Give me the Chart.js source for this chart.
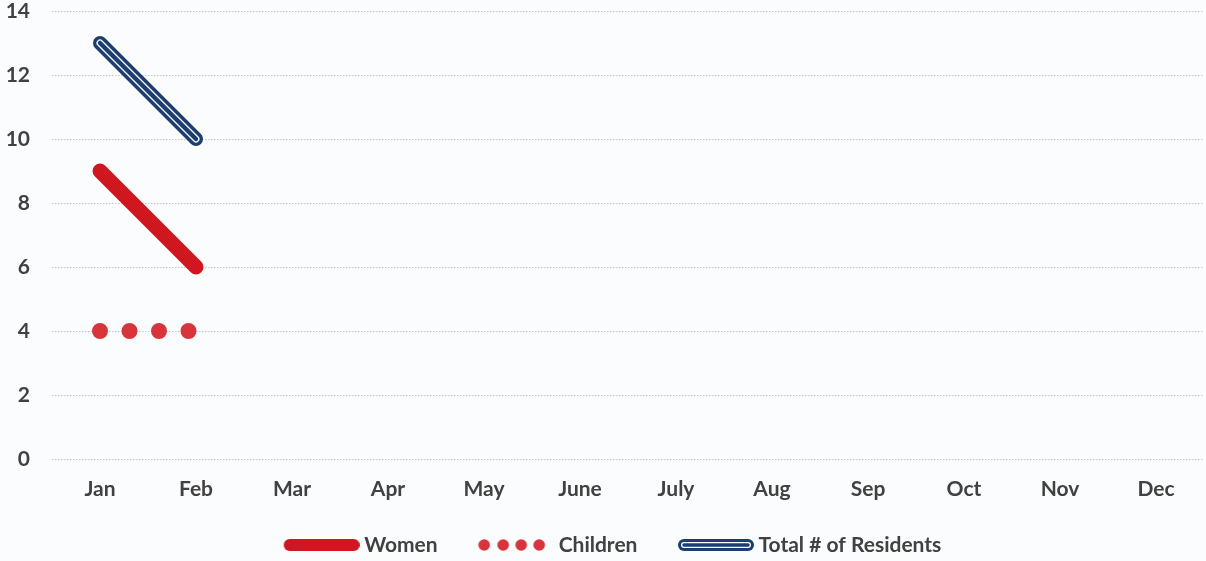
<!DOCTYPE html>
<html><head><meta charset="utf-8">
<script src="https://cdn.jsdelivr.net/npm/chart.js@4/dist/chart.umd.min.js"></script>
<style>html,body{margin:0;padding:0;background:#fafcfd;overflow:hidden}</style>
</head><body>
<canvas id="c" width="1206" height="561" style="width:1206px;height:561px;display:block"></canvas>
<script>
const months = ['Jan','Feb','Mar','Apr','May','June','July','Aug','Sep','Oct','Nov','Dec'];
const women = [9, 6, null, null, null, null, null, null, null, null, null, null];
const children = [4, 4, null, null, null, null, null, null, null, null, null, null];
const totalResidents = [13, 10, null, null, null, null, null, null, null, null, null, null];
const seriesNames = ['Women', 'Children', 'Total # of Residents'];
const yMin = 0, yMax = 14, yStep = 2;

const RED = '#d0161f', RED2 = '#d8343c', BLUE = '#1b3d70', WHITE = '#ffffff';
const FONT = 'Lato';
const FW = 'bold';
const FS = 21;
const TXT = '#414141';

// legend icons
const ICON_W = 119, ICON_H = 20, ICON_L = 43;
function mkIcon(draw) {
  const cv = document.createElement('canvas');
  cv.width = ICON_W; cv.height = ICON_H;
  const g = cv.getContext('2d');
  draw(g);
  return cv;
}
function hline(g, w, color) {
  g.strokeStyle = color; g.lineWidth = w; g.lineCap = 'round';
  g.beginPath(); g.moveTo(ICON_L + 6, ICON_H/2); g.lineTo(ICON_W - 6, ICON_H/2); g.stroke();
}
const iconWomen = mkIcon(g => hline(g, 12, RED));
const iconChildren = mkIcon(g => {
  g.fillStyle = RED2;
  [6, 25, 43, 61].forEach(dx => { g.beginPath(); g.arc(ICON_L + dx, ICON_H/2, 5.8, 0, Math.PI*2); g.fill(); });
});
const iconTotal = mkIcon(g => { hline(g, 12, BLUE); hline(g, 6, WHITE); hline(g, 3.5, BLUE); });
const icons = [iconWomen, iconChildren, iconTotal];

const legendShift = {
  id: 'legendShift',
  afterLayout(ch) { if (ch.legend) { ch.legend.left -= 8; ch.legend.right -= 8; } }
};

const chart = new Chart(document.getElementById('c'), {
  type: 'line',
  plugins: [legendShift],
  data: {
    labels: months,
    datasets: [
      { label: seriesNames[2], data: totalResidents, borderColor: BLUE, borderWidth: 4.5, order: 0, legendIdx: -1 },
      { label: seriesNames[2] + ' (inner)', data: totalResidents, borderColor: WHITE, borderWidth: 7, order: 1, legendIdx: -1 },
      { label: seriesNames[2] + ' (outer)', data: totalResidents, borderColor: BLUE, borderWidth: 14, order: 2, legendIdx: 2 },
      { label: seriesNames[0], data: women, borderColor: RED, borderWidth: 15, order: 3, legendIdx: 0 },
      { label: seriesNames[1], data: children, borderColor: RED2, borderWidth: 16, borderDash: [0, 29.5], order: 4, legendIdx: 1 }
    ]
  },
  options: {
    responsive: false,
    animation: false,
    events: [],
    layout: { padding: { left: 0, right: 2, top: 0, bottom: 0 } },
    elements: {
      point: { radius: 0, hoverRadius: 0 },
      line: { borderCapStyle: 'round', borderJoinStyle: 'round', tension: 0, fill: false }
    },
    scales: {
      x: {
        type: 'category',
        offset: true,
        grid: { display: false, drawTicks: false },
        border: { display: false },
        ticks: { color: TXT, font: { family: FONT, size: FS, weight: FW }, padding: 18, maxRotation: 0, autoSkip: false },
        afterFit(s) { s.height = 72; }
      },
      y: {
        min: yMin, max: yMax,
        grid: { color: '#c4c4c4', lineWidth: 1, drawTicks: false },
        border: { display: false, dash: [1.5, 1.5] },
        ticks: { stepSize: yStep, color: TXT, font: { family: FONT, size: FS, weight: FW }, padding: 22 },
        afterFit(s) { s.width = 52; s.paddingTop = 11; s.paddingBottom = 11; }
      }
    },
    plugins: {
      tooltip: { enabled: false },
      legend: {
        position: 'bottom',
        maxHeight: 30,
        labels: {
          usePointStyle: true,
          pointStyleWidth: 107,
          padding: 3.5,
          color: TXT,
          font: { family: FONT, size: FS, weight: FW },
          generateLabels(ch) {
            const out = [];
            ch.data.datasets.forEach((ds, i) => {
              if (ds.legendIdx >= 0) out.push({ idx: ds.legendIdx, datasetIndex: i });
            });
            out.sort((a, b) => a.idx - b.idx);
            return out.map(o => ({
              text: seriesNames[o.idx],
              pointStyle: icons[o.idx],
              fontColor: TXT,
              hidden: false,
              lineWidth: 0,
              strokeStyle: 'transparent',
              fillStyle: 'transparent',
              datasetIndex: o.datasetIndex
            }));
          }
        }
      }
    }
  }
});
</script>
</body></html>
